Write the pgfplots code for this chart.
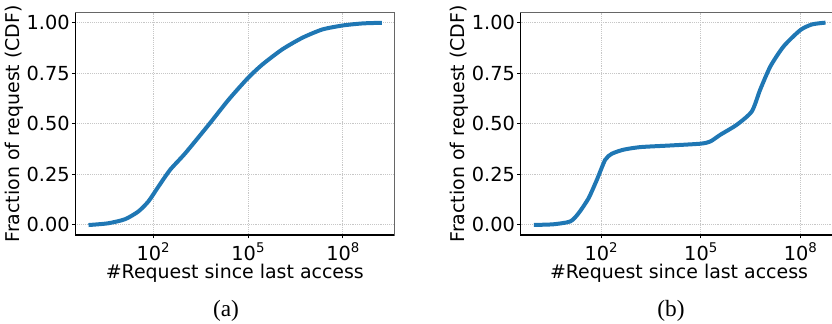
\documentclass[border=0pt]{standalone}
\usepackage{fontspec}
\newfontfamily\dejavu{DejaVu Sans}
\newfontfamily\capfont{Liberation Serif}
\usepackage{pgfplots}
\pgfplotsset{compat=1.18}
\definecolor{mplblue}{HTML}{1F77B4}
\newcommand{\sexp}[1]{10\raisebox{0.42em}{\fontsize{10}{10}\selectfont #1}}
\pgfplotsset{
 scale only axis, height=166.7pt,
 ymin=-0.05, ymax=1.05,
 xtick={1e2,1e5,1e8}, xticklabels={\sexp{2},\sexp{5},\sexp{8}},
 minor xtick={},
 ytick={0,0.25,0.5,0.75,1}, yticklabels={0.00,0.25,0.50,0.75,1.00},
 xtick pos=left, ytick pos=left, tick align=outside, major tick length=2.5pt,
 tick style={black, line width=0.6pt},
 grid=major, grid style={densely dotted, black!22, line width=0.6pt},
 axis line style={black!60, line width=0.8pt},
 ticklabel style={font=\dejavu\fontsize{14.5}{16}\selectfont},
 yticklabel style={inner xsep=1.5pt},
 xticklabel style={inner ysep=0.5pt, yshift=-2.3pt},
 label style={font=\dejavu\fontsize{14.2}{16}\selectfont},
 xlabel style={at={(axis description cs:0.5,-0.196)}, anchor=base, inner ysep=0.5pt},
 ylabel style={at={(axis description cs:-0.192,0.5)}, anchor=center},
}
\begin{document}
\begin{tikzpicture}
\useasboundingbox (0,0) rectangle (624pt,243pt);
\clip (0,0) rectangle (624pt,243pt);
\begin{axis}[xmode=log, name=a, anchor=south west, at={(56.5pt,66.75pt)}, width=239.25pt,
  xmin=0.3467, xmax=4.266e9,
  xlabel={\#Request since last access}, ylabel={Fraction of request (CDF)}]
\addplot[mplblue, line width=3pt, no marks, smooth, tension=0.4, line cap=rect] coordinates {(1.047,0) (3.8,0.008) (12.9,0.028) (33.9,0.066) (70.8,0.116) (148,0.19) (347,0.273) (1047,0.355) (5754,0.496) (24547,0.62) (1e5,0.727) (2.82e5,0.793) (1.2e6,0.868) (5.25e6,0.926) (2.24e7,0.967) (1e8,0.987) (4.17e8,0.997) (1.48e9,1.0)};
\end{axis}
\draw[black, line width=0.8pt] (a.north west) -- (a.south west) -- (a.south east);
\begin{axis}[xmode=log, name=b, anchor=south west, at={(390.4pt,66.75pt)}, width=237.7pt,
  xmin=0.3715, xmax=1.318e9,
  xlabel={\#Request since last access}, ylabel={Fraction of request (CDF)}]
\addplot[mplblue, line width=3pt, no marks, smooth, tension=0.4, line cap=rect] coordinates {(1.07,0) (3.63,0.003) (11.7,0.017) (20.9,0.058) (41.7,0.132) (74.1,0.223) (132,0.322) (209,0.352) (468,0.372) (1514,0.385) (12023,0.393) (1e5,0.402) (1.95e5,0.413) (3.89e5,0.446) (1.23e6,0.496) (3.47e6,0.562) (6.17e6,0.669) (1.26e7,0.785) (3.16e7,0.884) (1e8,0.964) (2.24e8,0.992) (5.01e8,1.0)};
\end{axis}
\draw[black, line width=0.8pt] (b.north west) -- (b.south west) -- (b.south east);
\node[font=\capfont\fontsize{17.5}{20}\selectfont] at (169.5pt,10.1pt) {(a)};
\node[font=\capfont\fontsize{17.5}{20}\selectfont] at (503.25pt,10.1pt) {(b)};
\end{tikzpicture}
\end{document}
